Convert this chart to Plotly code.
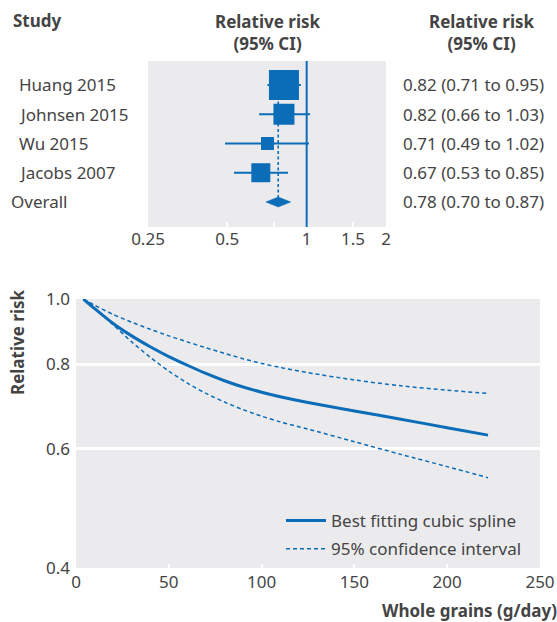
import plotly.graph_objects as go

# ---------------- data ----------------
studies = ["Huang 2015", "Johnsen 2015", "Wu 2015", "Jacobs 2007"]
rr = [0.82, 0.82, 0.71, 0.67]
rr_lo = [0.71, 0.66, 0.49, 0.53]
rr_hi = [0.95, 1.03, 1.02, 0.85]
weight_size = [30, 21, 13, 19]
overall_label = "Overall"
overall_rr = 0.78
overall_lo = 0.70
overall_hi = 0.87
forest_ticks = [0.25, 0.5, 0.75, 1, 1.5, 2]
forest_ticktext = ["0.25", "0.5", "", "1", "1.5", "2"]

grain_x = [4, 10, 20, 30, 40, 50, 60, 70, 80, 90, 100, 110, 125, 150, 175, 200, 222]
spline_rr = [1.0, 0.968, 0.920, 0.882, 0.850, 0.822, 0.798, 0.776, 0.757, 0.741, 0.728,
             0.717, 0.703, 0.683, 0.664, 0.645, 0.629]
ci_upper = [1.0, 0.979, 0.949, 0.924, 0.902, 0.882, 0.864, 0.847, 0.831, 0.816, 0.803,
            0.792, 0.778, 0.759, 0.744, 0.733, 0.725]
ci_lower = [1.0, 0.968, 0.916, 0.864, 0.820, 0.782, 0.751, 0.725, 0.704, 0.686, 0.671,
            0.658, 0.642, 0.615, 0.589, 0.565, 0.544]
grain_ticks = [0, 50, 100, 150, 200, 250]
rr_ticks = [0.4, 0.6, 0.8, 1.0]
rr_ticktext = ["0.4", "0.6", "0.8", "1.0"]

# ---------------- style ----------------
W, H = 557, 622
BLUE = "#0b6cb7"
PANEL = "#ebebee"
TXT = "#444444"
FONT = "Noto Sans"
FS = 17


def px(x):
    return x / W


def py(y):
    return 1 - y / H


fig = go.Figure()

n = len(studies)
rows = [n - i for i in range(n)]  # Huang=4 ... Jacobs=1, Overall=0
overall_row = 0

# CI lines
for r, lo, hi in zip(rows, rr_lo, rr_hi):
    fig.add_trace(go.Scatter(x=[lo, hi], y=[r, r], mode="lines",
                             line=dict(color=BLUE, width=2.2),
                             showlegend=False, hoverinfo="skip",
                             xaxis="x", yaxis="y"))
# pooled estimate dashed line
fig.add_trace(go.Scatter(x=[overall_rr, overall_rr], y=[rows[0], overall_row + 0.17],
                         mode="lines", line=dict(color=BLUE, width=1.6, dash="3px,2.5px"),
                         showlegend=False, hoverinfo="skip", xaxis="x", yaxis="y"))
# squares
fig.add_trace(go.Scatter(x=rr, y=rows, mode="markers",
                         marker=dict(symbol="square", size=weight_size, color=BLUE,
                                     opacity=1, line=dict(width=0)),
                         showlegend=False, hoverinfo="skip", xaxis="x", yaxis="y"))
# diamond
dh = 0.17
fig.add_trace(go.Scatter(x=[overall_lo, overall_rr, overall_hi, overall_rr, overall_lo],
                         y=[overall_row, overall_row + dh, overall_row, overall_row - dh, overall_row],
                         mode="lines", fill="toself", fillcolor=BLUE,
                         line=dict(color=BLUE, width=0.5),
                         showlegend=False, hoverinfo="skip", xaxis="x", yaxis="y"))

# ---------------- bottom spline plot ----------------
fig.add_trace(go.Scatter(x=grain_x, y=spline_rr, mode="lines",
                         line=dict(color=BLUE, width=3, shape="spline", smoothing=0.8),
                         name="Best fitting cubic spline", legendgroup="spline",
                         xaxis="x2", yaxis="y2", hoverinfo="skip"))
fig.add_trace(go.Scatter(x=grain_x, y=ci_lower, mode="lines",
                         line=dict(color=BLUE, width=1.5, dash="4px,3px", shape="spline",
                                   smoothing=0.8),
                         name="95% confidence interval", legendgroup="ci",
                         xaxis="x2", yaxis="y2", hoverinfo="skip"))
fig.add_trace(go.Scatter(x=grain_x, y=ci_upper, mode="lines",
                         line=dict(color=BLUE, width=1.5, dash="4px,3px", shape="spline",
                                   smoothing=0.8),
                         name="95% confidence interval", legendgroup="ci", showlegend=False,
                         xaxis="x2", yaxis="y2", hoverinfo="skip"))

ann = []
# headers
ann.append(dict(x=px(11), y=py(21), xref="paper", yref="paper", xanchor="left", yanchor="middle",
                text="<b>Study</b>", showarrow=False))
ann.append(dict(x=px(268), y=py(32), xref="paper", yref="paper", xanchor="center", yanchor="middle",
                text="<b>Relative risk</b><br><b>(95% CI)</b>", showarrow=False))
ann.append(dict(x=px(482), y=py(32), xref="paper", yref="paper", xanchor="center", yanchor="middle",
                text="<b>Relative risk</b><br><b>(95% CI)</b>", showarrow=False))
# study labels and values
for s, r, e, lo, hi in zip(studies, rows, rr, rr_lo, rr_hi):
    ann.append(dict(x=px(17), y=r, xref="paper", yref="y", xanchor="left", yanchor="middle",
                    text=s, showarrow=False))
    ann.append(dict(x=px(401), y=r, xref="paper", yref="y", xanchor="left", yanchor="middle",
                    text=f"{e:.2f} ({lo:.2f} to {hi:.2f})", showarrow=False))
ann.append(dict(x=px(9), y=overall_row, xref="paper", yref="y", xanchor="left", yanchor="middle",
                text=overall_label, showarrow=False))
ann.append(dict(x=px(401), y=overall_row, xref="paper", yref="y", xanchor="left", yanchor="middle",
                text=f"{overall_rr:.2f} ({overall_lo:.2f} to {overall_hi:.2f})", showarrow=False))
# bottom axis titles
ann.append(dict(x=px(18), y=py(342), xref="paper", yref="paper", xanchor="center", yanchor="middle",
                text="<b>Relative risk</b>", textangle=-90, showarrow=False))
ann.append(dict(x=px(559), y=py(610), xref="paper", yref="paper", xanchor="right", yanchor="middle",
                text="<b>Whole grains (g/day)</b>", showarrow=False))

shapes = [dict(type="line", xref="x", yref="paper", x0=1, x1=1,
               y0=py(227), y1=py(61), line=dict(color=BLUE, width=2), layer="above")]

fig.update_layout(
    template="none",
    width=W, height=H,
    margin=dict(l=0, r=0, t=0, b=0, pad=0, autoexpand=False),
    paper_bgcolor="white",
    plot_bgcolor=PANEL,
    font=dict(family=FONT, size=FS, color=TXT),
    annotations=ann,
    shapes=shapes,
    xaxis=dict(domain=[px(148), px(386)], type="log", automargin=False,
               range=[-0.60206, 0.30103],
               tickvals=forest_ticks, ticktext=forest_ticktext,
               ticks="inside", ticklen=5, tickwidth=1.5, tickcolor="white",
               showgrid=False, zeroline=False, showline=False, fixedrange=True,
               tickfont=dict(size=FS, color=TXT)),
    yaxis=dict(domain=[py(227), py(61)], range=[-0.855, 4.82], automargin=False,
               showticklabels=False, showgrid=False, zeroline=False, ticks="", fixedrange=True),
    xaxis2=dict(domain=[px(76), px(540)], range=[0, 250], anchor="y2", automargin=False,
                tickvals=grain_ticks, ticks="inside", ticklen=4, tickwidth=1.5, tickcolor="white",
                showgrid=False, zeroline=False, showline=False, ticklabelstandoff=2,
                tickfont=dict(size=FS, color=TXT)),
    yaxis2=dict(domain=[py(568), py(299)], type="log", range=[-0.39794, 0], anchor="x2",
                automargin=False, ticklabelstandoff=5,
                tickvals=rr_ticks, ticktext=rr_ticktext, ticks="",
                showgrid=True, gridcolor="white", gridwidth=2.5, zeroline=False, showline=False,
                tickfont=dict(size=FS, color=TXT)),
    legend=dict(x=px(281), y=py(503), xanchor="left", yanchor="top",
                bgcolor="rgba(0,0,0,0)", borderwidth=0, itemwidth=40,
                font=dict(size=FS, color=TXT), tracegroupgap=3,
                traceorder="grouped"),
    showlegend=True,
)

fig.write_html(
    "out.html",
    config={"displayModeBar": False},
    post_script="document.body.style.margin='0';document.body.style.overflow='hidden';",
)
